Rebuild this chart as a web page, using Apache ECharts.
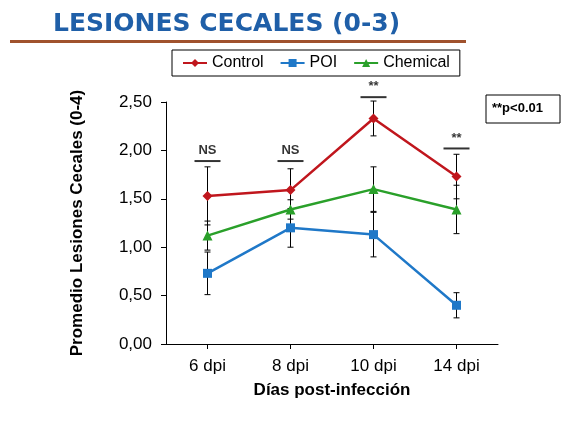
<!DOCTYPE html><html><head><meta charset="utf-8"><script src="https://cdn.jsdelivr.net/npm/echarts@6/dist/echarts.min.js"></script></head><body style="margin:0"><div id="c" style="width:575px;height:422px"></div><script>
const categories=['6 dpi','8 dpi','10 dpi','14 dpi'];
const control=[1.53,1.59,2.33,1.73];
const controlErr=[0.3,0.22,0.18,0.23];
const poi=[0.73,1.20,1.13,0.40];
const poiErr=[0.22,0.2,0.23,0.13];
const chemical=[1.12,1.39,1.60,1.39];
const chemicalErr=[0.15,0.1,0.23,0.25];
const sigLabels=['NS','NS','**','**'];
const sigLevels=[1.89,1.89,2.55,2.02];
const chart=echarts.init(document.getElementById('c'));
function errSeries(vals,errs){return{type:'custom',silent:true,z:1,data:vals.map((v,i)=>[i,v-errs[i],v+errs[i]]),
renderItem:(p,api)=>{const lo=api.coord([api.value(0),api.value(1)]),hi=api.coord([api.value(0),api.value(2)]);const w=3;
return{type:'group',children:[{type:'line',shape:{x1:lo[0],y1:lo[1],x2:hi[0],y2:hi[1]},style:{stroke:'#000',lineWidth:1}},
{type:'line',shape:{x1:lo[0]-w,y1:lo[1],x2:lo[0]+w,y2:lo[1]},style:{stroke:'#000',lineWidth:1}},
{type:'line',shape:{x1:hi[0]-w,y1:hi[1],x2:hi[0]+w,y2:hi[1]},style:{stroke:'#000',lineWidth:1}}]};}};}
function line(name,data,color,sym,size){return{name,type:'line',data,symbol:sym,symbolSize:size,z:3,lineStyle:{color,width:2.5},itemStyle:{color}};}
chart.setOption({
title:{text:'LESIONES CECALES (0-3)',left:48,top:7,textStyle:{color:'#1f5fa8',fontSize:25,fontWeight:'bold',fontFamily:'DejaVu Sans'}},
graphic:[{type:'rect',shape:{x:10,y:40,width:456,height:3},style:{fill:'#a0522d'}},
{type:'rect',shape:{x:486,y:95,width:74,height:28},style:{fill:'#fff',stroke:'#000',lineWidth:1}},
{type:'text',x:492,y:102,style:{text:'**p<0.01',font:'bold 13px Liberation Sans',fill:'#000'}}],
legend:{top:50,left:172,itemGap:16,padding:[5,10],borderColor:'#000',borderWidth:1,data:['Control','POI','Chemical'],textStyle:{fontSize:16,fontFamily:'Liberation Sans',color:'#000'},itemWidth:24,itemHeight:10},
grid:{left:166,right:77,top:102,bottom:78},
xAxis:{type:'category',data:categories,name:'Días post-infección',nameLocation:'middle',nameGap:38,nameTextStyle:{fontSize:17,fontWeight:'bold',color:'#000',fontFamily:'Liberation Sans'},
axisLine:{lineStyle:{color:'#000'}},axisTick:{show:true,alignWithLabel:true},axisLabel:{fontSize:17,color:'#000',margin:14,fontFamily:'Liberation Sans'}},
yAxis:{type:'value',min:0,max:2.5,interval:0.5,name:'Promedio Lesiones Cecales (0-4)',nameLocation:'middle',nameGap:80,nameTextStyle:{fontSize:17,fontWeight:'bold',color:'#000',fontFamily:'Liberation Sans'},
axisLine:{show:true,lineStyle:{color:'#000'}},axisTick:{show:true},splitLine:{show:false},axisLabel:{fontSize:17,color:'#000',margin:14,fontFamily:'Liberation Sans',formatter:v=>v.toFixed(2).replace('.',',')}},
series:[errSeries(control,controlErr),errSeries(poi,poiErr),errSeries(chemical,chemicalErr),
line('Control',control,'#c0161d','diamond',10),line('POI',poi,'#1f78c8','rect',9),line('Chemical',chemical,'#2aa02a','triangle',10),
{type:'scatter',silent:true,clip:false,data:sigLevels.map((v,i)=>[i,v]),symbol:'rect',symbolSize:[26,2],itemStyle:{color:'#000'},
label:{show:true,position:'top',distance:3,formatter:p=>sigLabels[p.dataIndex],fontSize:13,fontWeight:'bold',color:'#000',fontFamily:'Liberation Sans'}}]
});
</script></body></html>
